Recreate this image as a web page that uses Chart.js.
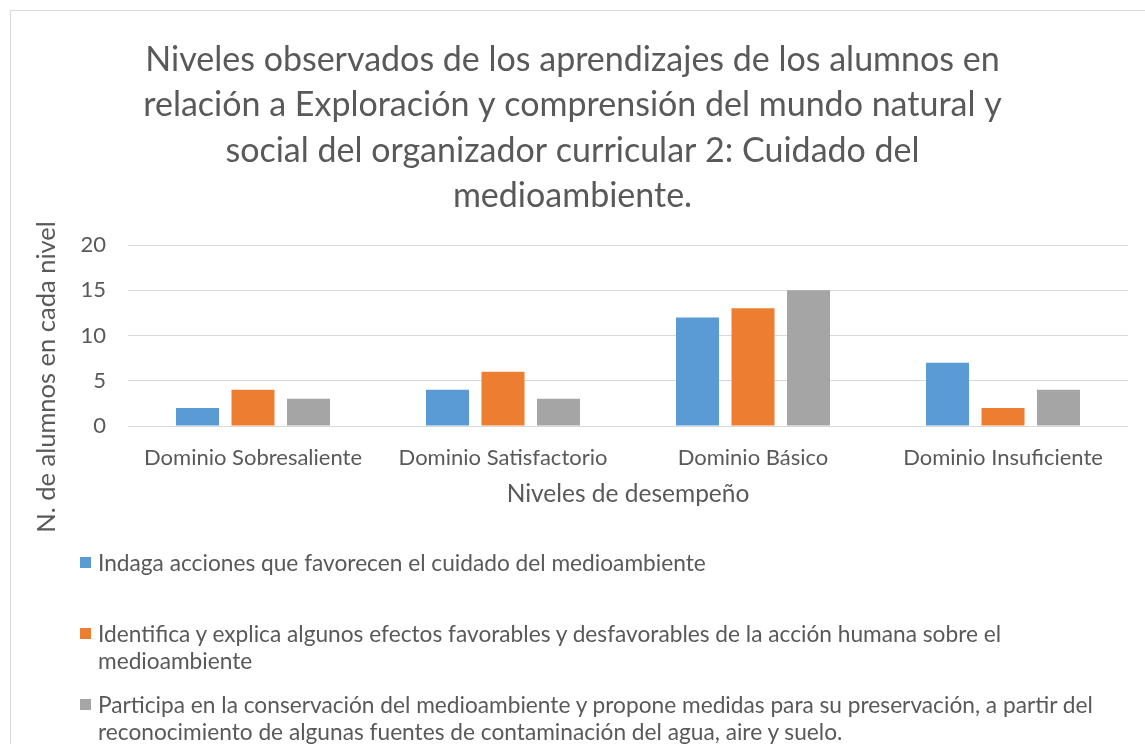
<!DOCTYPE html>
<html>
<head>
<meta charset="utf-8">
<script src="https://cdn.jsdelivr.net/npm/chart.js@4.4.1/dist/chart.umd.min.js"></script>
<style>
  html, body { margin: 0; padding: 0; background: #fff; overflow: hidden; }
  #wrap { position: relative; width: 1145px; height: 744px; }
  #frame { position: absolute; left: 10px; top: 10px; width: 1200px; height: 800px; border: 1px solid #d9d9d9; box-sizing: border-box; }
  #chart { position: absolute; left: 0; top: 0; }
  #legend { position: absolute; left: 80px; top: 549px; font-family: Lato, sans-serif; font-size: 22.7px; color: #595959; }
  .item { position: relative; padding-left: 18px; line-height: 27px; min-height: 54px; margin-bottom: 17px; white-space: nowrap; }
  .item .sw { position: absolute; left: 0; top: 8px; width: 11px; height: 11px; }
</style>
</head>
<body>
<div id="wrap">
  <div id="frame"></div>
  <canvas id="chart" width="1145" height="744"></canvas>
  <div id="legend"></div>
</div>
<script>
const categories = ['Dominio Sobresaliente', 'Dominio Satisfactorio', 'Dominio Básico', 'Dominio Insuficiente'];
const indaga = [2, 4, 12, 7];
const identifica = [4, 6, 13, 2];
const participa = [3, 3, 15, 4];
const yTicks = [0, 5, 10, 15, 20];
const titleLines = [
  'Niveles observados de los aprendizajes de los alumnos en',
  'relación a Exploración y comprensión del mundo natural y',
  'social del organizador curricular 2: Cuidado del',
  'medioambiente.'
];
// legend texts split where the reference wraps them
const seriesLines = [
  ['Indaga acciones que favorecen el cuidado del medioambiente'],
  ['Identifica y explica algunos efectos favorables y desfavorables de la acción humana sobre el', 'medioambiente'],
  ['Participa en la conservación del medioambiente y propone medidas para su preservación, a partir del', 'reconocimiento de algunas fuentes de contaminación del agua, aire y suelo.']
];
const colors = ['#5b9bd5', '#ed7d31', '#a5a5a5'];
const yTitle = 'N. de alumnos en cada nivel';
const xTitle = 'Niveles de desempeño';

const textColor = '#595959';
const font = 'Lato, sans-serif';

const yTitlePlugin = {
  id: 'yTitle',
  afterDraw(chart) {
    const ctx = chart.ctx;
    ctx.save();
    ctx.translate(47, 377);
    ctx.rotate(-Math.PI / 2);
    ctx.font = `25.5px ${font}`;
    ctx.fillStyle = textColor;
    ctx.textAlign = 'center';
    ctx.textBaseline = 'middle';
    ctx.fillText(yTitle, 0, 0);
    ctx.restore();
  }
};

const series = [indaga, identifica, participa];
new Chart(document.getElementById('chart'), {
  type: 'bar',
  data: {
    labels: categories,
    datasets: series.map((data, i) => ({
      label: seriesLines[i].join(' '),
      data,
      backgroundColor: colors[i],
      categoryPercentage: 0.666,
      barPercentage: 0.775
    }))
  },
  options: {
    responsive: false,
    animation: false,
    layout: { padding: { top: 0, left: 17, right: 17, bottom: 235 } },
    plugins: {
      legend: { display: false },
      tooltip: { enabled: false },
      title: {
        display: true,
        text: titleLines,
        color: textColor,
        font: { family: font, size: 34, lineHeight: 45.5 / 34, weight: 'normal' },
        padding: { top: 37, bottom: 26 }
      }
    },
    scales: {
      x: {
        grid: { display: false, drawTicks: false },
        border: { display: false },
        ticks: { color: textColor, font: { family: font, size: 22 }, padding: 19, maxRotation: 0 },
        title: { display: true, text: xTitle, color: textColor, font: { family: font, size: 24.5, lineHeight: 1.2 }, padding: 0 },
        afterFit: s => { s.height = 83; }
      },
      y: {
        min: 0, max: 20,
        afterBuildTicks: s => { s.ticks = yTicks.map(v => ({ value: v })); },
        grid: { color: '#d9d9d9', drawTicks: false },
        border: { display: false },
        ticks: { color: textColor, font: { family: font, size: 22 }, padding: 22 },
        afterFit: s => { s.width = 111; }
      }
    }
  },
  plugins: [yTitlePlugin]
});

document.getElementById('legend').innerHTML = seriesLines.map((lines, i) =>
  `<div class="item"><span class="sw" style="background:${colors[i]}"></span>${lines.join('<br>')}</div>`
).join('');
</script>
</body>
</html>
